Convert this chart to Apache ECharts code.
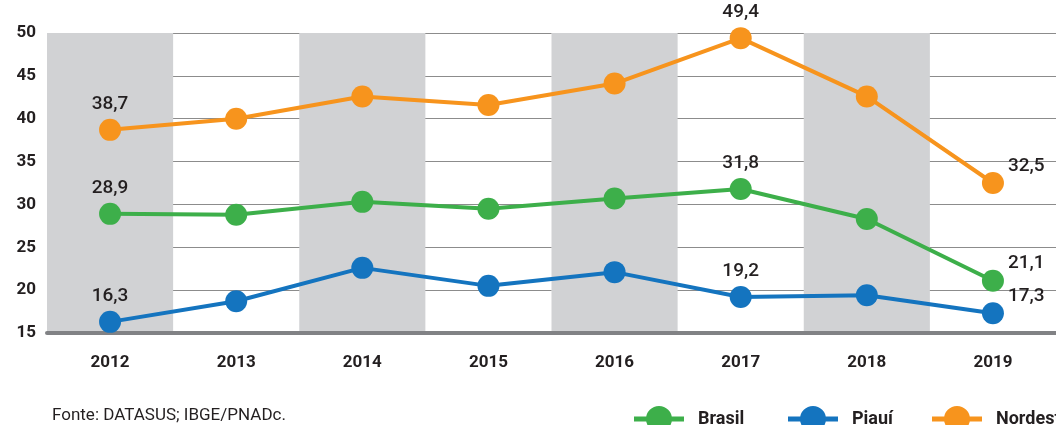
<!DOCTYPE html>
<html>
<head>
<meta charset="utf-8">
<script src="https://cdn.jsdelivr.net/npm/echarts@6/dist/echarts.min.js"></script>
<style>
html,body{margin:0;padding:0;background:#fff;}
#c{width:1056px;height:425px;}
</style>
</head>
<body>
<div id="c"></div>
<script>
const years = ['2012','2013','2014','2015','2016','2017','2018','2019'];
const brasil   = [28.9, 28.8, 30.3, 29.5, 30.7, 31.8, 28.3, 21.1];
const piaui    = [16.3, 18.7, 22.6, 20.5, 22.1, 19.2, 19.4, 17.3];
const nordeste = [38.7, 40.0, 42.6, 41.6, 44.1, 49.4, 42.6, 32.5];
const labeledIdx = [0, 5, 7];
const yTicks = { min: 15, max: 50, interval: 5 };
const source = 'Fonte: DATASUS; IBGE/PNADc.';
const legendNames = ['Brasil', 'Piauí', 'Nordeste'];

const TXT = '#231f20';
const FONT = "'Liberation Sans Narrow', Roboto, 'DejaVu Sans', sans-serif";
const LEG_ICON = 'path://M0,11.5L50,11.5L50,16.5L0,16.5Z M12,14A13,13 0 1 1 38,14A13,13 0 1 1 12,14Z';

function fmt(v){ return v.toFixed(1).replace('.', ','); }

function buildData(vals){
  return vals.map((v, i) => {
    if (labeledIdx.indexOf(i) < 0) return v;
    const last = i === vals.length - 1;
    return {
      value: v,
      label: {
        show: true,
        position: last ? 'right' : 'top',
        distance: last ? 4 : 5,
        offset: last ? [0, -17] : [0, 0],
        formatter: p => fmt(p.value),
        color: TXT,
        fontSize: 19,
        fontWeight: 500,
        fontFamily: FONT
      }
    };
  });
}

function mkSeries(name, vals, color){
  return {
    name, type: 'line', data: buildData(vals),
    symbol: 'circle', symbolSize: 22,
    lineStyle: { color, width: 4 },
    itemStyle: { color },
    label: { show: false },
    emphasis: { disabled: true },
    z: 3
  };
}

function mkLegend(name, left){
  return {
    left, top: 401,
    itemWidth: 50, itemHeight: 28,
    icon: LEG_ICON,
    textStyle: { color: TXT, fontSize: 18, fontWeight: 'bold', fontFamily: FONT, padding: [0, 0, 0, 9] },
    data: [name]
  };
}

const chart = echarts.init(document.getElementById('c'), null, { renderer: 'canvas' });
chart.setOption({
  animation: false,
  textStyle: { fontFamily: FONT },
  grid: { left: 47, width: 1013, top: 33, bottom: 92, containLabel: false },
  xAxis: {
    type: 'category', data: years, boundaryGap: true,
    axisLine: { show: true, lineStyle: { color: '#818285', width: 4 } },
    axisTick: { show: false },
    axisLabel: { color: TXT, fontSize: 17, fontWeight: 'bold', margin: 21, fontFamily: FONT },
    splitLine: { show: false },
    splitArea: { show: true, interval: 0, areaStyle: { color: ['#d1d2d4', 'rgba(255,255,255,0)'] } }
  },
  yAxis: {
    type: 'value', min: yTicks.min, max: yTicks.max, interval: yTicks.interval,
    axisLine: { show: false }, axisTick: { show: false },
    axisLabel: { color: TXT, fontSize: 17, fontWeight: 'bold', margin: 11, fontFamily: FONT },
    splitLine: { show: true, lineStyle: { color: '#8c8c8c', width: 1 } }
  },
  legend: [
    mkLegend(legendNames[0], 629),
    mkLegend(legendNames[1], 783),
    mkLegend(legendNames[2], 927)
  ],
  graphic: [{
    type: 'text', left: 52, top: 407,
    style: { text: source, fill: TXT, fontSize: 17, fontFamily: FONT }
  }],
  series: [
    mkSeries('Brasil', brasil, '#3daf4a'),
    mkSeries('Piauí', piaui, '#1474bf'),
    mkSeries('Nordeste', nordeste, '#f7941d')
  ]
});
</script>
</body>
</html>
